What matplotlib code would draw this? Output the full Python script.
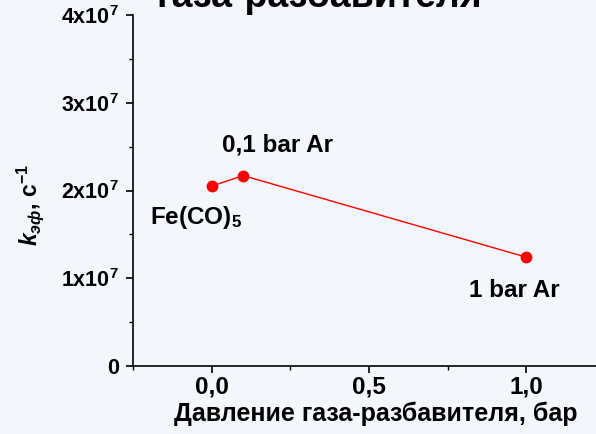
import matplotlib
matplotlib.use("Agg")
import matplotlib.pyplot as plt
from matplotlib.ticker import MultipleLocator, FuncFormatter

plt.rcParams['font.family'] = ['Liberation Sans', 'DejaVu Sans']
plt.rcParams['font.weight'] = 'bold'
plt.rcParams['mathtext.fontset'] = 'custom'
plt.rcParams['mathtext.rm'] = 'Liberation Sans:bold'
plt.rcParams['mathtext.bf'] = 'Liberation Sans:bold'
plt.rcParams['mathtext.it'] = 'Liberation Sans:italic:bold'
plt.rcParams['mathtext.bfit'] = 'Liberation Sans:italic:bold'

# pressure of diluent gas (bar) and effective rate constant (1/s)
pressure = [0.0, 0.1, 1.0]
k_eff = [2.05e7, 2.17e7, 1.24e7]
point_labels = ["$\\mathbf{Fe(CO)_5}$", "0,1 bar Ar", "1 bar Ar"]

fs = 17.5
bg = '#f3f6fb'
fig = plt.figure(figsize=(5.96, 4.34), dpi=100, facecolor=bg)
ax = fig.add_axes([0.2232, 0.1567, 0.792, 0.8087])
ax.set_facecolor(bg)

ax.plot(pressure, k_eff, color='red', lw=1.0, marker='o', ms=7.5,
        markerfacecolor='red', markeredgecolor='red')

ax.set_xlim(-0.25, 1.25)
ax.set_ylim(0, 4e7)
ax.xaxis.set_major_locator(MultipleLocator(0.5))
ax.xaxis.set_minor_locator(MultipleLocator(0.25))
ax.yaxis.set_major_locator(MultipleLocator(1e7))
ax.yaxis.set_minor_locator(MultipleLocator(5e6))
ax.xaxis.set_major_formatter(FuncFormatter(lambda v, p: f"{v:.1f}".replace('.', ',')))


def ytick(v, p):
    n = int(round(v / 1e7))
    if n == 0:
        return "0"
    return "$\\mathbf{%dx10^{7}}$" % n


ax.yaxis.set_major_formatter(FuncFormatter(ytick))

for s in ['top', 'right']:
    ax.spines[s].set_visible(False)
for s in ['left', 'bottom']:
    ax.spines[s].set_linewidth(1.2)
ax.tick_params(which='major', direction='out', length=5, width=1.2)
ax.tick_params(which='minor', direction='out', length=3, width=1.0)
ax.tick_params(axis='x', which='major', labelsize=fs, pad=2)
ax.tick_params(axis='y', which='major', labelsize=15.5, pad=5)

# point captions
ax.text(-0.197, 1.62e7, point_labels[0], fontsize=fs, ha='left', va='baseline')
ax.text(0.21, 2.52e7, point_labels[1], fontsize=fs, ha='center', va='center')
ax.text(0.963, 0.866e7, point_labels[2], fontsize=fs, ha='center', va='center')

ax.set_xlabel("Давление газа-разбавителя, бар", fontsize=18, fontweight='bold')
ax.xaxis.set_label_coords(0.515, -0.1)
fig.text(0.05, 0.528, "$\\mathbfit{k}_{\\mathbfit{эф}}$, с$^{\\mathbf{-1}}$",
         fontsize=16.5, rotation=90, ha='center', va='center')

fig.text(0.535, 0.984, "газа-разбавителя", fontsize=27, ha='center',
         va='baseline')

fig.savefig("out.png", dpi=100, facecolor=bg)
